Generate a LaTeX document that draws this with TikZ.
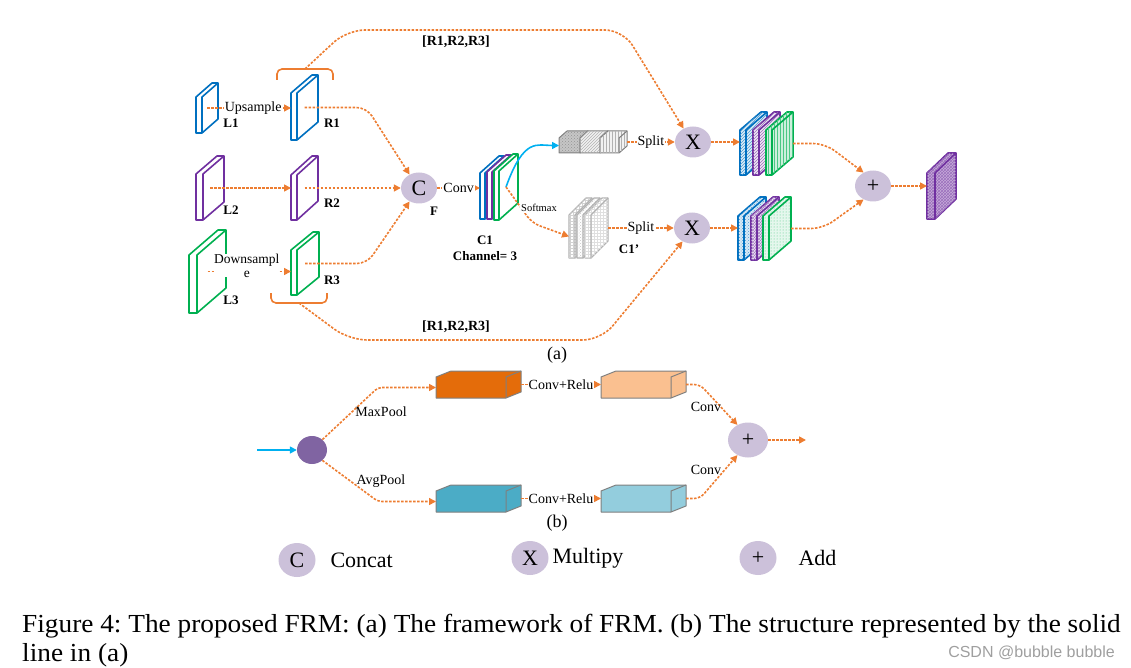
\documentclass[tikz,border=0pt]{standalone}
\usepackage{fontspec}
\setmainfont{Liberation Serif}
\newfontfamily\wmfont{Liberation Sans}
\usetikzlibrary{arrows.meta,shapes.geometric,patterns,calc}
\frenchspacing

\definecolor{flowor}{HTML}{ED7D31}
\definecolor{opfill}{HTML}{CCC1DA}
\definecolor{blueL}{HTML}{0070C0}
\definecolor{purpleL}{HTML}{7030A0}
\definecolor{greenL}{HTML}{00B050}
\definecolor{cyanL}{HTML}{00B0F0}
\definecolor{boxedge}{HTML}{7F7F7F}
\definecolor{maxbox}{HTML}{E46C0A}
\definecolor{maxbox2}{HTML}{FAC090}
\definecolor{avgbox}{HTML}{4BACC6}
\definecolor{avgbox2}{HTML}{93CDDD}
\definecolor{poolnode}{HTML}{8064A2}

\tikzstyle{op}=[ellipse,fill=opfill,minimum width=36pt,minimum height=31pt,inner sep=0pt,font=\fontsize{22}{22}\selectfont]
\tikzstyle{flow}=[draw=flowor,line width=1.6pt,dash pattern=on 2.5pt off 1.5pt,-{Triangle[length=7pt,width=7pt]}]
\tikzstyle{solid flow}=[draw=cyanL,line width=1.6pt,-{Triangle[length=7pt,width=7pt]}]
\tikzstyle{brace}=[draw=flowor,line width=1.6pt,rounded corners=5pt]
\tikzstyle{lbl}=[font=\bfseries\fontsize{13}{13}\selectfont]
\tikzstyle{plain}=[font=\fontsize{14}{14}\selectfont]
\tikzstyle{onarrow}=[fill=white,inner sep=1pt,font=\fontsize{14}{14}\selectfont]
\tikzstyle{keytext}=[anchor=west,font=\fontsize{22}{22}\selectfont]
\tikzstyle{slab}=[line width=1.6pt,line join=round]
\tikzstyle{box}=[line width=1pt,draw=boxedge,line join=round]
\tikzstyle{caption}=[anchor=base west,inner sep=0pt,font=\fontsize{26}{26}\selectfont]

% slab or box: name, x, y, w, h, depth x, depth y, line style, fill style
\newcommand{\prism}[9]{%
  \path[#8,#9] (#2,#3) -- ++(#6,-#7) -- ++(#4,0) -- ++(0,#5) -- ++(-#6,#7) -- ++(-#4,0) -- cycle;
  \path[#8] (#2+#4,#3+#5) -- ++(0,-#5) -- ++(#6,-#7);
  \coordinate (#1) at (#2+#4/2+#6/2,#3+#5/2-#7/2);
  \coordinate (#1 w) at (#2,#3+#5/2);
  \coordinate (#1 e) at (#2+#4+#6,#3+#5/2-#7/2);
}

\begin{document}
\begin{tikzpicture}[x=1pt,y=-1pt]
\useasboundingbox (0,0) rectangle (1131,668);

% (a) levels
\prism{L1}{196}{97}{6}{36}{16}{14}{slab,draw=blueL}{fill=white}
\prism{R1}{291}{93}{6}{47}{21}{18}{slab,draw=blueL}{fill=white}
\prism{L2}{196}{174}{7}{46}{21}{18}{slab,draw=purpleL}{fill=white}
\prism{R2}{291}{175}{6}{45}{21}{19}{slab,draw=purpleL}{fill=white}
\prism{L3}{189}{255}{8}{58}{29}{25}{slab,draw=greenL}{fill=white}
\prism{R3}{291}{250}{6}{45}{22}{18}{slab,draw=greenL}{fill=white}

\node[lbl] (l1) at (231,123) {L1};
\node[lbl] (r1) at (332,123) {R1};
\node[lbl] (l2) at (231,210) {L2};
\node[lbl] (r2) at (332,203) {R2};
\node[lbl] (l3) at (231,300) {L3};
\node[lbl] (r3) at (332,280) {R3};

\draw[flow] (L1) -- node[onarrow,pos=0.55] (up) {Upsample} (L1 -| R1 w);
\draw[flow] (L2) -- (L2 -| R2 w);
\draw[flow] (L3) -- node[onarrow,align=center,pos=0.47,yshift=6pt,inner sep=0pt,font=\fontsize{13.5}{14}\selectfont] (down) {Downsampl\\e} (L3 -| R3 w);

\draw[brace] (277,80) -- (277,69) -- (333,69) -- (333,80);
\coordinate (btop) at (305,69);
\draw[brace] (271,293) -- (271,303) -- (327,303) -- (327,293);
\coordinate (bbot) at (299,303);

% concat
\node[op] (C) at (419,188) {C};
\node[lbl] (f) at (434,211) {F};
\draw[flow,rounded corners=10pt] (R1) -- ++(62,0) -- (C.125);
\draw[flow] (R2) -- (R2 -| C.west);
\draw[flow,rounded corners=10pt] (R3) -- ++(62,0) -- (C.235);

\prism{C1b}{480}{173}{5}{46}{19}{17}{slab,draw=blueL}{fill=white}
\prism{C1p}{487}{172}{5}{47}{19}{17}{slab,draw=purpleL}{fill=white}
\prism{C1g}{494}{171}{5}{49}{19}{17}{slab,draw=greenL}{fill=white}
\draw[flow] (C.east) -- node[onarrow] (conv) {Conv} (C.east -| C1b w);
\node[lbl] (c1) at (485,240) {C1};
\node[lbl] (ch) at (485,256) {Channel= 3};

% upper branch
\prism{G1}{559}{138}{21}{15}{8}{7}{box}{fill=gray!45,postaction={pattern=crosshatch dots,pattern color=gray!85}}
\prism{G2}{580}{138}{20}{15}{8}{7}{box}{fill=gray!10,postaction={pattern=north east lines,pattern color=gray!60}}
\prism{G3}{600}{138}{19}{15}{8}{7}{box}{fill=gray!10,postaction={pattern=vertical lines,pattern color=gray!60}}
\draw[solid flow] (C1g) .. controls +(18,-50) and +(-22,0) .. (G1 w);

\node[op] (X1) at (693,142) {X};
\draw[flow] (G3 e) -- node[onarrow] (split1) {Split} (X1);

\prism{S1b}{740}{130}{6}{45}{21}{18}{slab,draw=blueL}{fill=blueL!12,postaction={pattern=north east lines,pattern color=blueL!70}}
\prism{S1p}{753}{130}{6}{45}{21}{18}{slab,draw=purpleL}{fill=purpleL!10,postaction={pattern=north east lines,pattern color=purpleL!70}}
\prism{S1g}{766}{130}{6}{45}{21}{18}{slab,draw=greenL}{fill=greenL!20,postaction={pattern=vertical lines,pattern color=greenL!70}}
\draw[flow] (X1.east) -- (X1.east -| S1b w);

% lower branch
\prism{P1}{569}{215}{6}{43}{17}{17}{slab,draw=gray!60,line width=1.2pt}{fill=white,postaction={pattern=grid,pattern color=gray!35}}
\prism{P2}{577}{215}{6}{43}{17}{17}{slab,draw=gray!60,line width=1.2pt}{fill=white,postaction={pattern=crosshatch dots,pattern color=gray!45}}
\prism{P3}{585}{215}{6}{43}{17}{17}{slab,draw=gray!60,line width=1.2pt}{fill=white,postaction={pattern=grid,pattern color=gray!25}}
\draw[flow,rounded corners=8pt] (C1g) -- ++(26,36) -- (P1 w);
\node[onarrow,font=\fontsize{10.5}{10.5}\selectfont] (soft) at (539,208) {Softmax};
\node[lbl] (c1p) at (629,249) {C1'};

\node[op] (X2) at (692,228) {X};
\draw[flow] (P3 e) -- node[onarrow] (split2) {Split} (X2);

\prism{S2b}{738}{216}{6}{44}{22}{19}{slab,draw=blueL}{fill=blueL!15,postaction={pattern=crosshatch dots,pattern color=blueL!70}}
\prism{S2p}{751}{216}{6}{44}{22}{19}{slab,draw=purpleL}{fill=purpleL!10,postaction={pattern=crosshatch,pattern color=purpleL!60}}
\prism{S2g}{763}{216}{6}{44}{22}{19}{slab,draw=greenL}{fill=greenL!10,postaction={pattern=dots,pattern color=greenL!70}}
\draw[flow] (X2.east) -- (X2.east -| S2b w);

% skip paths
\draw[flow,rounded corners=18pt] (btop) -- ++(42,-39) -- ++(276,0) -- (X1.125);
\draw[flow,rounded corners=18pt] (bbot) -- ++(50,37) -- ++(252,0) -- (X2.235);
\node[lbl,font=\bfseries\fontsize{14}{14}\selectfont] (rtop) at (456,42) {[R1,R2,R3]};
\node[lbl,font=\bfseries\fontsize{14}{14}\selectfont] (rbot) at (456,327) {[R1,R2,R3]};

% add
\node[op] (Add) at (873,186) {+};
\draw[flow,rounded corners=12pt] (S1g e) -- ++(32,0) -- (Add.125);
\draw[flow,rounded corners=12pt] (S2g e) -- ++(32,0) -- (Add.235);
\prism{Out}{927}{173}{8}{46}{21}{20}{slab,draw=purpleL}{fill=purpleL!40,postaction={pattern=crosshatch,pattern color=purpleL!70}}
\draw[flow] (Add.east) -- (Add.east -| Out w);

\node[font=\fontsize{18}{18}\selectfont] (capa) at (557,355) {(a)};

% (b)
\node[ellipse,fill=poolnode,minimum width=30pt,minimum height=28pt,inner sep=0pt] (pool) at (312,450) {};
\coordinate (inb) at (257,450);
\draw[solid flow] (inb) -- (pool);

\prism{Mx}{436}{377}{70}{21}{15}{6}{box}{fill=maxbox}
\prism{Mx2}{601}{377}{70}{21}{15}{6}{box}{fill=maxbox2}
\prism{Av}{436}{491}{70}{21}{15}{6}{box}{fill=avgbox}
\prism{Av2}{601}{491}{70}{21}{15}{6}{box}{fill=avgbox2}

\draw[flow,rounded corners=4pt] (pool.45) -- ($(Mx w)+(-58,0)$) -- (Mx w);
\draw[flow,rounded corners=4pt] (pool.-45) -- ($(Av w)+(-58,0)$) -- (Av w);
\node[plain] (maxp) at (381,412) {MaxPool};
\node[plain] (avgp) at (381,481) {AvgPool};

\draw[flow] (Mx e) -- node[onarrow] (cr1) {Conv+Relu} (Mx e -| Mx2 w);
\draw[flow] (Av e) -- node[onarrow] (cr2) {Conv+Relu} (Av e -| Av2 w);

\node[op,minimum width=40pt,minimum height=35pt] (add2) at (748,440) {+};
\draw[flow,rounded corners=6pt] (Mx2 e) -- ++(14,0) -- (add2.125);
\draw[flow,rounded corners=6pt] (Av2 e) -- ++(14,0) -- (add2.235);
\node[plain] (convt) at (706,407) {Conv};
\node[plain] (convb) at (706,470) {Conv};
\coordinate (outb) at (806,440);
\draw[flow] (add2.east) -- (outb);

\node[font=\fontsize{18}{18}\selectfont] (capb) at (557,523) {(b)};

% legend
\node[op,minimum width=37pt,minimum height=34pt] (lc) at (297,560) {C};
\node[keytext] (lct) at (327,560) {Concat};
\node[op,minimum width=37pt,minimum height=34pt] (lx) at (530,558) {X};
\node[keytext] (lxt) at (549,558) {Multipy};
\node[op,minimum width=37pt,minimum height=34pt] (lp) at (758,558) {+};
\node[keytext] (lpt) at (795,558) {Add};

% caption
\node[caption] (cap1) at (22,632) {\scalebox{1.05}[1]{Figure 4: The proposed FRM: (a) The framework of FRM. (b) The structure represented by the solid}};
\node[caption] (cap2) at (22,661) {\scalebox{1.05}[1]{line in (a)}};
\node[anchor=base east,inner sep=0pt,text=gray!75,font=\wmfont\fontsize{16}{16}\selectfont] (wm) at (1115,657) {CSDN @bubble bubble};
\end{tikzpicture}
\end{document}
